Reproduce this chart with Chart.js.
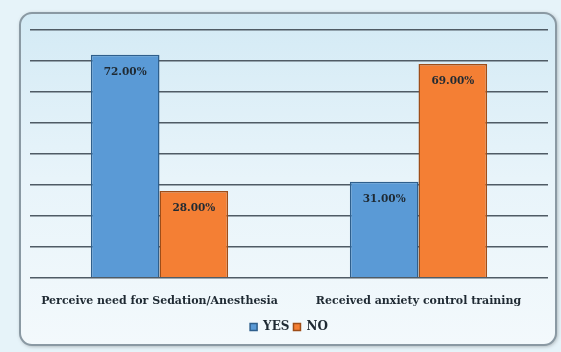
<!DOCTYPE html>
<html>
<head>
<meta charset="utf-8">
<script src="https://cdn.jsdelivr.net/npm/chart.js@4"></script>
<style>
  html, body { margin: 0; padding: 0; background: #eaf5fa; }
  #wrap { width: 561px; height: 352px; }
</style>
</head>
<body>
<div id="wrap"><canvas id="chartCanvas" width="561" height="352"></canvas></div>
<script>
const categories = ['Perceive need for Sedation/Anesthesia', 'Received anxiety control training'];
const yesValues = [72, 31];
const noValues = [28, 69];
const seriesNames = ['YES', 'NO'];

const serifFamily = '"DejaVu Serif", serif';

// Panel background with rounded gray frame
const panelPlugin = {
    id: 'panel',
    beforeDraw(chart) {
        const ctx = chart.ctx;
        ctx.save();
        ctx.fillStyle = '#e6f3f9';
        ctx.fillRect(0, 0, chart.width, chart.height);
        const x = 20, y = 13, w = 536, h = 332, r = 12;
        ctx.beginPath();
        ctx.roundRect(x, y, w, h, r);
        const g = ctx.createLinearGradient(0, y, 0, y + h);
        g.addColorStop(0, '#d3eaf5');
        g.addColorStop(0.5, '#e8f4fa');
        g.addColorStop(1, '#f3f9fc');
        ctx.fillStyle = g;
        ctx.shadowColor = 'rgba(0,0,0,0.35)';
        ctx.shadowBlur = 4;
        ctx.shadowOffsetX = 1;
        ctx.shadowOffsetY = 1;
        ctx.fill();
        ctx.shadowColor = 'transparent';
        ctx.lineWidth = 2;
        ctx.strokeStyle = '#8a99a3';
        ctx.stroke();
        ctx.restore();
    }
};

// Value labels drawn inside top of each bar
const valueLabels = {
    id: 'valueLabels',
    afterDatasetsDraw(chart) {
        const ctx = chart.ctx;
        ctx.save();
        ctx.font = 'bold 10.5px ' + serifFamily;
        ctx.fillStyle = '#1f2a33';
        ctx.textAlign = 'center';
        ctx.textBaseline = 'middle';
        chart.data.datasets.forEach((ds, i) => {
            chart.getDatasetMeta(i).data.forEach((bar, j) => {
                ctx.fillText(ds.data[j].toFixed(2) + '%', bar.x, bar.y + 17);
            });
        });
        ctx.restore();
    }
};

new Chart(document.getElementById('chartCanvas'), {
    type: 'bar',
    data: {
        labels: categories,
        datasets: [
            {
                label: seriesNames[0],
                data: yesValues,
                backgroundColor: '#5a9ad6',
                borderColor: '#2f5f8c',
                borderWidth: 1.5,
                borderSkipped: 'bottom'
            },
            {
                label: seriesNames[1],
                data: noValues,
                backgroundColor: '#f47f34',
                borderColor: '#9e4d18',
                borderWidth: 1.5,
                borderSkipped: 'bottom'
            }
        ]
    },
    options: {
        responsive: false,
        animation: false,
        layout: { padding: { left: 30, right: 13, top: 30, bottom: 9 } },
        datasets: { bar: { barPercentage: 1, categoryPercentage: 0.53 } },
        scales: {
            x: {
                grid: { display: false },
                border: { display: false },
                ticks: {
                    color: '#1f2a33',
                    font: { family: serifFamily, size: 11, weight: 'bold' },
                    padding: 9,
                    maxRotation: 0,
                    minRotation: 0,
                    autoSkip: false
                }
            },
            y: {
                min: 0,
                max: 80,
                ticks: { display: false, stepSize: 10 },
                border: { display: false },
                grid: { color: '#4f5b65', lineWidth: 1.5, drawTicks: false }
            }
        },
        plugins: {
            legend: {
                position: 'bottom',
                labels: {
                    boxWidth: 7,
                    boxHeight: 7,
                    padding: 4,
                    color: '#1f2a33',
                    font: { family: serifFamily, size: 12, weight: 'bold' }
                }
            },
            tooltip: { enabled: false }
        }
    },
    plugins: [panelPlugin, valueLabels]
});
</script>
</body>
</html>
